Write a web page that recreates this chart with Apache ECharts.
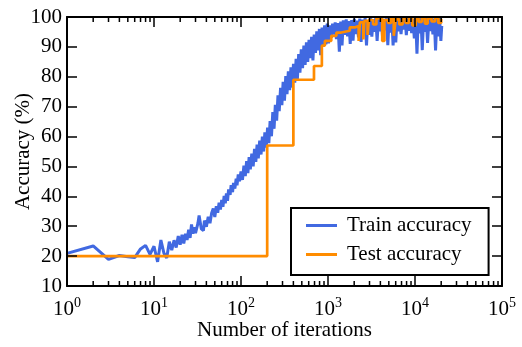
<!DOCTYPE html>
<html>
<head>
<meta charset="utf-8">
<script src="https://cdn.jsdelivr.net/npm/echarts@6/dist/echarts.min.js"></script>
<style>
  html, body { margin: 0; padding: 0; background: #fff; }
  #chart { width: 522px; height: 347px; }
</style>
</head>
<body>
<div id="chart"></div>
<script>
// Training accuracy, logged per iteration early on, then sampled more sparsely
const trainIter = [
  1, 2, 3, 4, 5, 6, 7, 8, 9, 10,
  11, 12, 13, 14, 15,
  16, 17, 18, 19, 20, 21, 22, 23, 24, 25,
  26, 27, 28, 29, 30, 32, 33, 35, 37, 38,
  40, 42, 44, 46, 48, 50, 52, 54, 56, 58,
  60, 62, 64, 66, 68, 70, 72, 75, 77, 80,
  82, 85, 88, 90, 93, 96, 100,
  104, 108, 112, 116, 120, 124, 128, 133, 138, 143,
  148, 153, 158, 164, 170, 176, 182, 188, 195, 202,
  209, 216, 224, 232, 240, 248, 257, 266, 275, 285,
  295, 305, 316, 327, 338, 350, 362, 375, 388, 401,
  415, 430, 445, 460, 476, 493, 510, 528, 546, 565,
  585, 605, 626, 648, 671, 694, 718, 743, 769, 796,
  824, 853, 883, 914, 946, 979, 1013,
  1050, 1090, 1130, 1170, 1210, 1250, 1300, 1350, 1400, 1450,
  1500, 1560, 1620, 1680, 1740, 1800, 1870, 1940, 2010, 2080,
  2160, 2240, 2320, 2400, 2490, 2580, 2670, 2770, 2870, 2970,
  3080, 3190, 3300, 3420, 3540, 3670, 3800, 3940, 4080, 4230,
  4380, 4540, 4700, 4870, 5040, 5220, 5410, 5600, 5800, 6010,
  6220, 6440, 6670, 6910, 7160, 7410, 7680, 7950, 8230, 8530,
  8830, 9150, 9480, 9820, 10170, 10530, 10910, 11300, 11700, 12120,
  12560, 13010, 13470, 13950, 14450, 14970, 15510, 16060, 16640, 17230,
  17850, 18490, 19150, 19830, 20300
];
const trainAcc = [
  20.9, 23.4, 18.9, 20.2, 19.8, 19.5, 22.4, 23.6, 20.6, 23.3,
  18.1, 25.4, 21.0, 19.4, 24.8,
  22.0, 25.3, 22.9, 26.7, 23.8, 27.1, 24.2, 27.5, 25.4, 28.8,
  26.1, 30.6, 27.5, 29.6, 27.7, 31.0, 33.6, 29.1, 28.5, 31.9,
  29.8, 33.2, 31.0, 34.4, 35.9, 33.1, 36.7, 34.5, 37.9, 35.6,
  38.8, 36.5, 40.1, 37.7, 41.0, 38.5, 42.3, 40.5, 43.7, 41.4,
  44.5, 42.6, 45.9, 43.7, 47.3, 45.0, 48.3,
  45.5, 50.3, 46.8, 51.8, 47.8, 53.1, 49.0, 54.3, 50.0, 55.9,
  51.5, 57.3, 52.7, 58.6, 54.0, 60.0, 55.0, 61.4, 56.3, 63.0,
  57.8, 65.2, 60.1, 68.2, 62.6, 70.6, 65.3, 73.8, 68.5, 76.3,
  70.5, 78.3, 72.0, 80.2, 74.2, 81.8, 75.5, 83.2, 76.4, 84.3,
  78.0, 86.0, 79.3, 87.6, 81.4, 89.2, 82.9, 90.4, 84.0, 91.5,
  85.0, 92.4, 86.2, 93.4, 85.5, 94.1, 88.0, 95.2, 88.8, 96.0,
  87.2, 96.5, 90.2, 97.2, 90.8, 97.8, 91.2,
  97.2, 93.0, 97.8, 94.1, 98.2, 92.6, 98.0, 88.4, 98.5, 90.5,
  98.9, 94.0, 99.2, 93.5, 98.6, 91.0, 99.0, 92.1, 99.4, 94.3,
  98.8, 93.2, 99.5, 91.7, 99.1, 94.6, 99.6, 90.5, 98.9, 94.0,
  99.7, 93.4, 99.2, 95.0, 99.6, 92.0, 99.3, 95.2, 99.8, 93.6,
  99.4, 95.5, 99.7, 90.6, 99.5, 94.8, 99.8, 90.5, 99.3, 91.5,
  99.6, 95.2, 99.8, 94.3, 99.4, 95.8, 99.9, 93.9, 99.5, 95.4,
  99.8, 94.6, 99.4, 92.8, 99.7, 87.7, 99.6, 94.5, 99.8, 88.9,
  99.5, 95.0, 99.7, 91.3, 99.4, 95.3, 99.8, 94.2, 99.5, 88.8,
  99.6, 93.5, 99.7, 92.0, 97.0
];

// Test accuracy at each evaluation; each value holds until the next evaluation
const testIter = [
  1, 200, 400, 690, 850, 920, 1090, 1250, 1420, 1780,
  2030, 2250, 2330, 2550, 2620, 2850, 2950, 3300, 3600, 4200,
  4450, 4900, 5300, 5700, 6000, 6600, 7200, 7800, 8500, 9300,
  10200, 11000, 12000, 13000, 14000, 15500, 17000, 18500, 20000, 20300
];
const testAcc = [
  20, 57, 79, 83.6, 90.4, 92, 93.7, 94.8, 95.4, 96.5,
  97, 92, 98.2, 92.5, 98.7, 94, 99, 97.5, 99.5, 92,
  99, 98, 99.6, 93.7, 99.2, 97.5, 99.6, 98, 99.8, 97.2,
  99.5, 98.4, 99.7, 97.8, 99.5, 98.5, 99.8, 98, 99.4, 99.4
];

// Minor tick positions on the logarithmic iteration axis
const minorTicks = [
  2, 3, 4, 5, 6, 7, 8, 9,
  20, 30, 40, 50, 60, 70, 80, 90,
  200, 300, 400, 500, 600, 700, 800, 900,
  2000, 3000, 4000, 5000, 6000, 7000, 8000, 9000,
  20000, 30000, 40000, 50000, 60000, 70000, 80000, 90000
];

const seriesNames = ['Train accuracy', 'Test accuracy'];
const seriesColors = ['#4169E1', '#FF8C00'];

const FONT = 'Liberation Serif';
const zip = (xs, ys) => xs.map((x, i) => [x, ys[i]]);

const frameLine = { show: true, onZero: false, lineStyle: { color: '#000', width: 2 } };
const majorTick = { show: true, inside: true, length: 10, lineStyle: { color: '#000', width: 1.5 } };

const chart = echarts.init(document.getElementById('chart'), null, { renderer: 'canvas' });

chart.setOption({
  animation: false,
  backgroundColor: '#fff',
  textStyle: { fontFamily: FONT, color: '#000' },
  grid: { left: 67, right: 20, top: 17, bottom: 61, containLabel: false, outerBoundsMode: 'none' },
  xAxis: [
    {
      type: 'log', logBase: 10, min: 1, max: 100000, position: 'bottom', z: 10,
      axisLine: frameLine, axisTick: majorTick, splitLine: { show: false },
      name: 'Number of iterations', nameLocation: 'middle', nameGap: 34, nameMoveOverlap: false,
      nameTextStyle: { fontFamily: FONT, fontSize: 21, color: '#000' },
      axisLabel: {
        margin: 10,
        formatter: v => '{b|10}{s|' + Math.round(Math.log10(v)) + '}',
        rich: {
          b: { fontFamily: FONT, fontSize: 21, color: '#000', verticalAlign: 'bottom', lineHeight: 24 },
          s: { fontFamily: FONT, fontSize: 14, color: '#000', verticalAlign: 'top', lineHeight: 14 }
        }
      }
    },
    {
      type: 'log', logBase: 10, min: 1, max: 100000, position: 'top', z: 10,
      axisLine: frameLine, axisTick: majorTick, axisLabel: { show: false }, splitLine: { show: false }
    }
  ],
  yAxis: [
    {
      type: 'value', min: 10, max: 100, interval: 10, position: 'left', z: 10,
      axisLine: frameLine, axisTick: majorTick, splitLine: { show: false },
      axisLabel: { fontFamily: FONT, fontSize: 21, color: '#000', margin: 5 },
      name: 'Accuracy (%)', nameLocation: 'middle', nameGap: 33, nameRotate: 90, nameMoveOverlap: false,
      nameTextStyle: { fontFamily: FONT, fontSize: 21, color: '#000' }
    },
    {
      type: 'value', min: 10, max: 100, interval: 10, position: 'right', z: 10,
      axisLine: frameLine, axisTick: majorTick, axisLabel: { show: false }, splitLine: { show: false }
    }
  ],
  legend: {
    data: seriesNames.map(n => ({ name: n, icon: 'rect' })),
    orient: 'vertical',
    left: 291, top: 208,
    padding: [7, 17, 10, 15],
    itemWidth: 31, itemHeight: 3, itemGap: 8,
    borderColor: '#000', borderWidth: 2, backgroundColor: '#fff',
    textStyle: { fontFamily: FONT, fontSize: 21, color: '#000', padding: [0, 0, 0, 5] },
    z: 20
  },
  series: [
    {
      name: seriesNames[0], type: 'line', data: zip(trainIter, trainAcc),
      showSymbol: false, color: seriesColors[0],
      lineStyle: { width: 3, color: seriesColors[0] }, z: 3
    },
    {
      name: seriesNames[1], type: 'line', data: zip(testIter, testAcc), step: 'end',
      showSymbol: false, color: seriesColors[1],
      lineStyle: { width: 2.7, color: seriesColors[1] }, z: 4
    },
    {
      type: 'custom', silent: true, z: 8, clip: false,
      data: minorTicks.map(v => [v, 10]),
      renderItem: (params, api) => {
        const v = api.value(0);
        const b = api.coord([v, 10]);
        const t = api.coord([v, 100]);
        const st = { stroke: '#000', lineWidth: 1.5 };
        return {
          type: 'group',
          children: [
            { type: 'line', shape: { x1: b[0], y1: b[1], x2: b[0], y2: b[1] - 5 }, style: st },
            { type: 'line', shape: { x1: t[0], y1: t[1], x2: t[0], y2: t[1] + 5 }, style: st }
          ]
        };
      }
    }
  ]
});
</script>
</body>
</html>
